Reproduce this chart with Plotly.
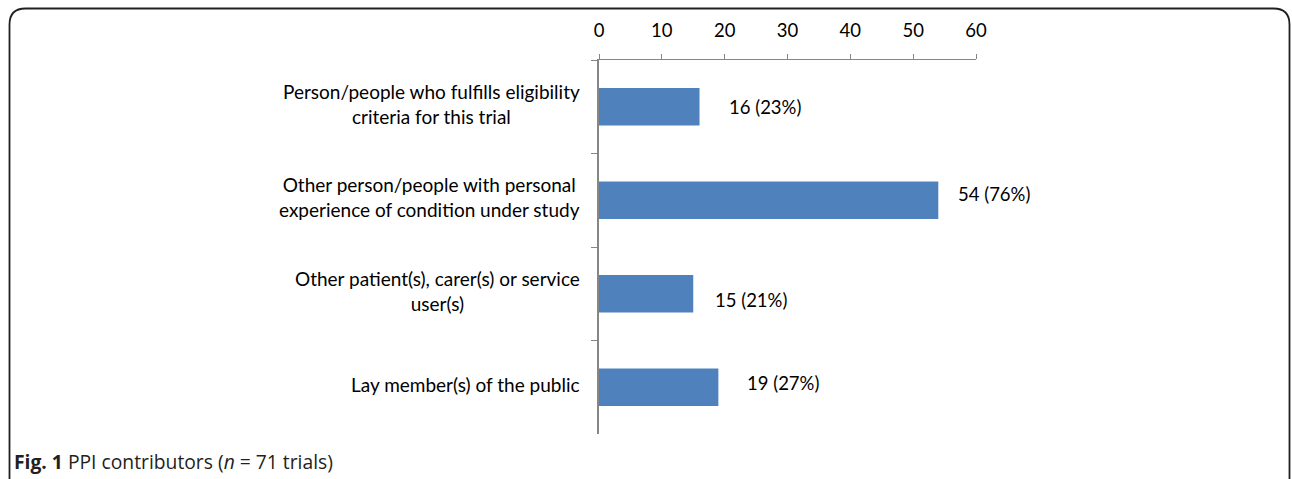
import plotly.graph_objects as go

categories = [
    "Person/people who fulfills eligibility<br>criteria for this trial",
    "Other person/people with personal<br>experience of condition under study",
    "Other patient(s), carer(s) or service<br>user(s)",
    "Lay member(s) of the public",
]
values = [16, 54, 15, 19]
percents = [23, 76, 21, 27]
x_ticks = [0, 10, 20, 30, 40, 50, 60]

# label offsets (style)
label_dx = [27, 18, 20, 27]
label_dy = [0, 6, -6, 4]

W, H = 1292, 479
L, R, T, B = 599, 976, 60, 434

FONT = "Lato"
AXIS_COLOR = "#868686"

fig = go.Figure()
fig.add_trace(go.Bar(
    x=values, y=categories, orientation="h",
    marker=dict(color="#4F81BD", line=dict(width=0)),
    width=0.4, hoverinfo="skip",
))

for c, v, p, dx, dy in zip(categories, values, percents, label_dx, label_dy):
    fig.add_annotation(x=v, y=c, xref="x", yref="y", text=f"{v} ({p}%)",
                       showarrow=False, xanchor="left", yanchor="middle",
                       xshift=dx, yshift=dy,
                       font=dict(family=FONT, size=18.5, color="#000"))
    fig.add_annotation(x=0, y=c, xref="paper", yref="y", text=c,
                       showarrow=False, xanchor="right", yanchor="middle",
                       align="center", xshift=-17, yshift=3,
                       font=dict(family=FONT, size=19, color="#000"))

def px(xp):
    return (xp - L) / (R - L)

def py(yp):
    return (B - yp) / (B - T)

# rounded frame
x0, x1, y0, y1, r = 9.5, 1289.5, 8.5, 520, 16
path = (f"M {px(x0)},{py(y1)} L {px(x0)},{py(y0 + r)} "
        f"Q {px(x0)},{py(y0)} {px(x0 + r)},{py(y0)} "
        f"L {px(x1 - r)},{py(y0)} Q {px(x1)},{py(y0)} {px(x1)},{py(y0 + r)} "
        f"L {px(x1)},{py(y1)}")
fig.add_shape(type="path", path=path, xref="paper", yref="paper",
              line=dict(color="#231f20", width=1.8))

fig.add_annotation(x=px(12), y=py(461), xref="paper", yref="paper",
                   text="<b>Fig. 1</b> PPI contributors (<i>n</i> = 71 trials)",
                   showarrow=False, xanchor="left", yanchor="middle",
                   font=dict(family="Open Sans", size=19.3, color="#231f20"))

fig.update_layout(
    width=W, height=H,
    margin=dict(l=L, r=W - R, t=T, b=H - B, pad=0),
    paper_bgcolor="white", plot_bgcolor="white",
    showlegend=False,
    xaxis=dict(side="top", range=[0, 60], tickvals=x_ticks,
               showgrid=False, zeroline=False,
               showline=True, linecolor=AXIS_COLOR, linewidth=1,
               ticks="outside", ticklen=5, tickcolor=AXIS_COLOR,
               tickfont=dict(family=FONT, size=18.5, color="#000"),
               ticklabelstandoff=10),
    yaxis=dict(autorange="reversed", showgrid=False, zeroline=False,
               showline=True, linecolor=AXIS_COLOR, linewidth=1.5,
               ticks="outside", ticklen=6, tickcolor=AXIS_COLOR,
               tickson="boundaries", showticklabels=False),
)

fig.write_html("out.html")
